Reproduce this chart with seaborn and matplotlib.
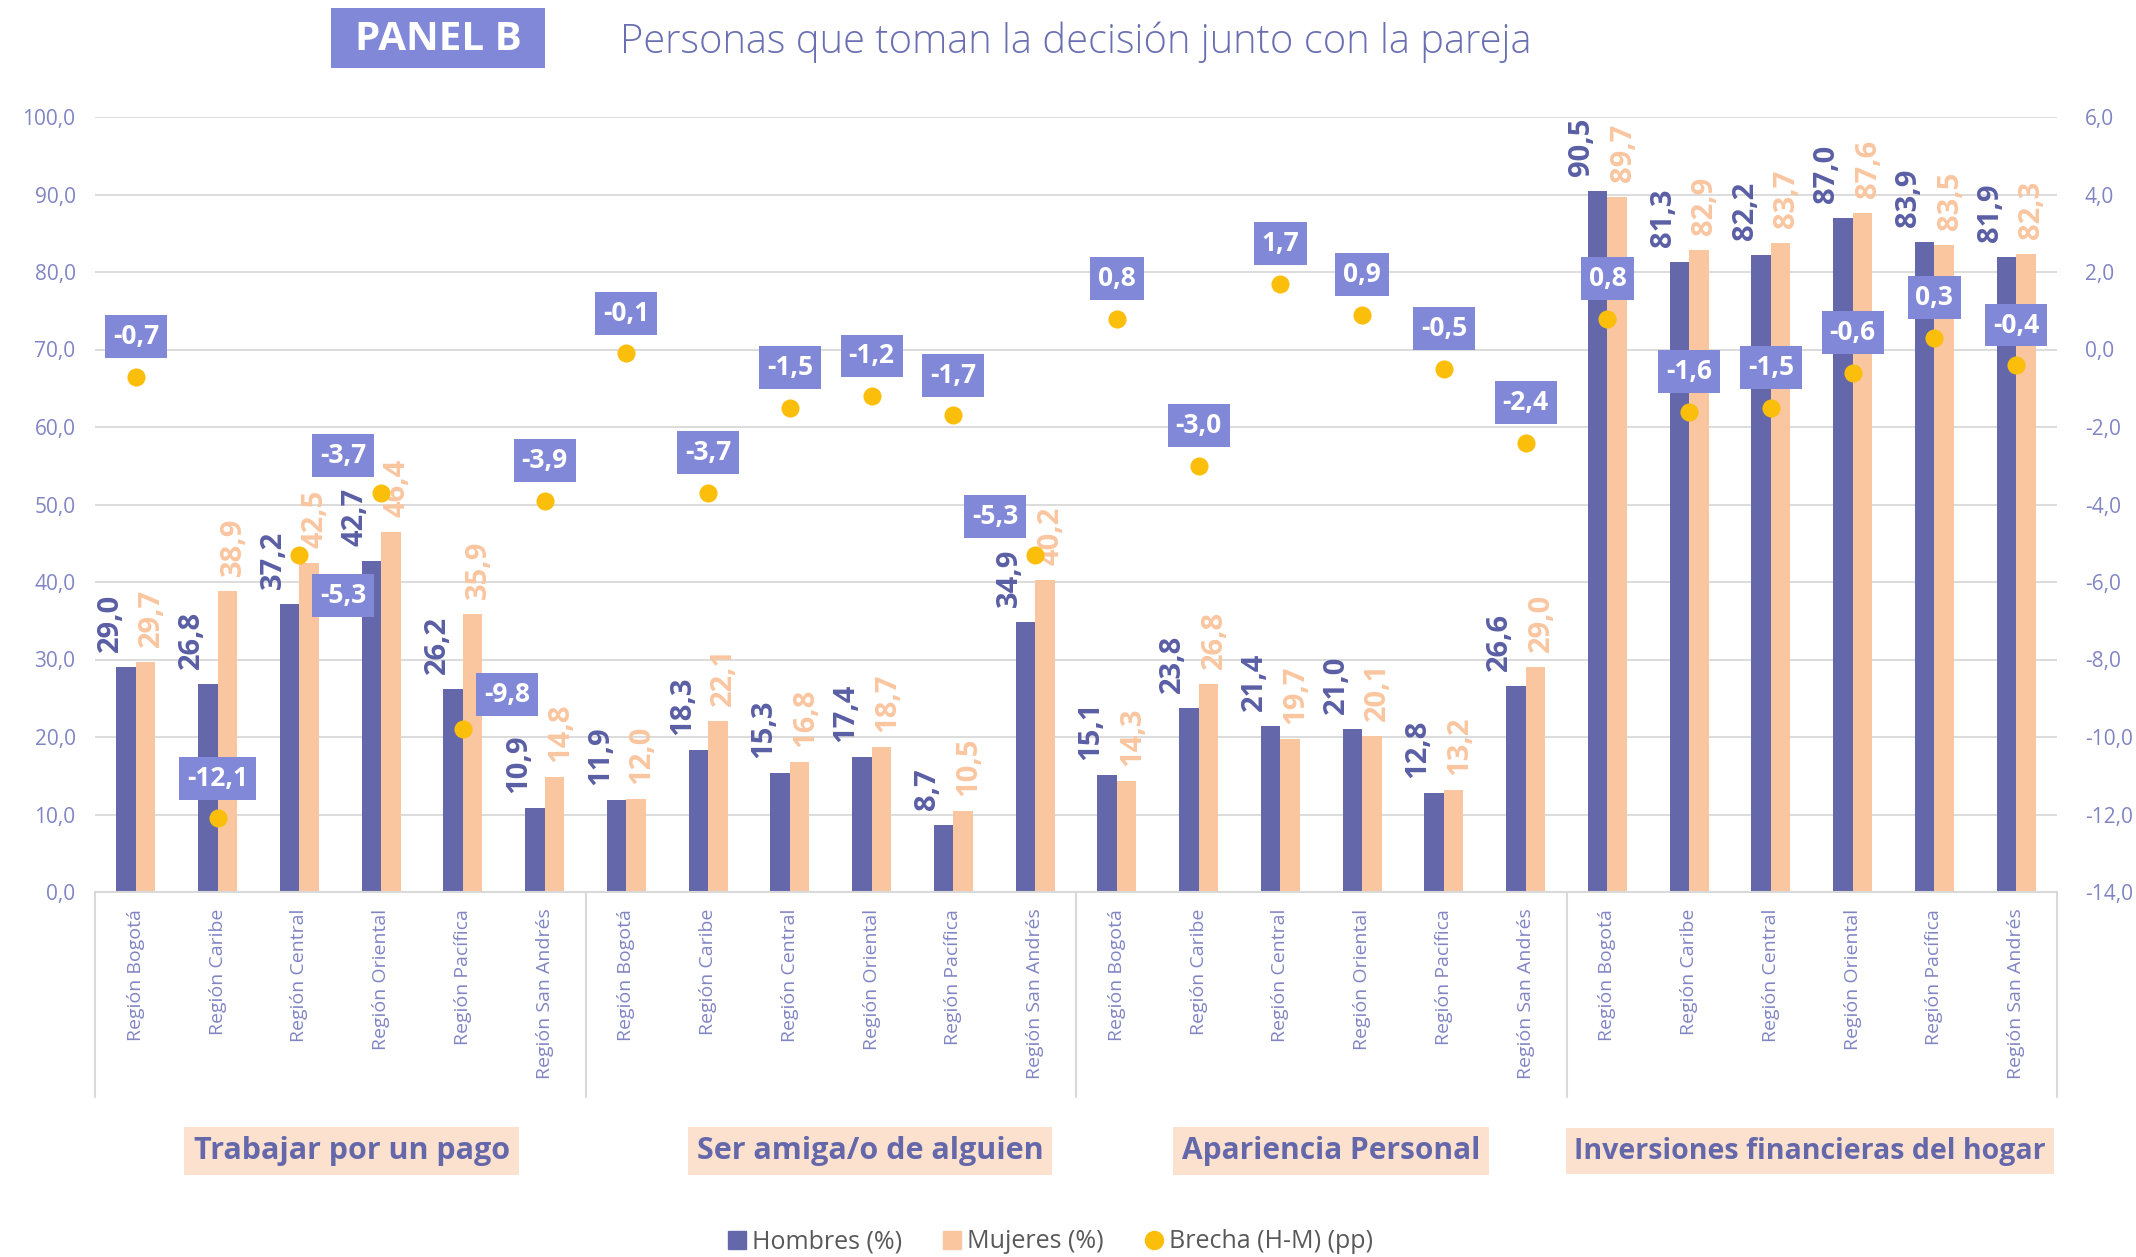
import numpy as np
import pandas as pd
import matplotlib.pyplot as plt
import seaborn as sns
from matplotlib.ticker import FuncFormatter
from matplotlib.lines import Line2D
from matplotlib.patches import Rectangle
import matplotlib.transforms as mtransforms

regiones = ["Región Bogotá", "Región Caribe", "Región Central",
            "Región Oriental", "Región Pacífica", "Región San Andrés"]
grupos = ["Trabajar por un pago", "Ser amiga/o de alguien",
          "Apariencia Personal", "Inversiones financieras del hogar"]

hombres = [29.0, 26.8, 37.2, 42.7, 26.2, 10.9,
           11.9, 18.3, 15.3, 17.4, 8.7, 34.9,
           15.1, 23.8, 21.4, 21.0, 12.8, 26.6,
           90.5, 81.3, 82.2, 87.0, 83.9, 81.9]
mujeres = [29.7, 38.9, 42.5, 46.4, 35.9, 14.8,
           12.0, 22.1, 16.8, 18.7, 10.5, 40.2,
           14.3, 26.8, 19.7, 20.1, 13.2, 29.0,
           89.7, 82.9, 83.7, 87.6, 83.5, 82.3]
brecha = [-0.7, -12.1, -5.3, -3.7, -9.8, -3.9,
          -0.1, -3.7, -1.5, -1.2, -1.7, -5.3,
          0.8, -3.0, 1.7, 0.9, -0.5, -2.4,
          0.8, -1.6, -1.5, -0.6, 0.3, -0.4]

C_H = "#6468AA"
C_M = "#F9C6A0"
C_B = "#FBBE0B"
C_BOX = "#8188D8"
C_TICK = "#8185C4"
C_GRID = "#D9D9D9"

n = len(hombres)
pos = np.arange(n)
df = pd.DataFrame({
    "pos": np.concatenate([pos, pos]),
    "serie": ["Hombres (%)"] * n + ["Mujeres (%)"] * n,
    "valor": hombres + mujeres,
})

sns.set_theme(style="white")
plt.rcParams['font.family'] = ['Open Sans', 'DejaVu Sans']

fig = plt.figure(figsize=(21.36, 12.57), dpi=100)
ax = fig.add_axes([95 / 2136, 1 - 892 / 1257, 1962 / 2136, 775 / 1257])

sns.barplot(data=df, x="pos", y="valor", hue="serie", palette=[C_H, C_M],
            width=0.48, linewidth=0, saturation=1, ax=ax, legend=False)

ax.set_ylim(0, 100)
ax.set_yticks(np.arange(0, 101, 10))
fmt = FuncFormatter(lambda v, p: f"{v:.1f}".replace(".", ","))
ax.yaxis.set_major_formatter(fmt)
ax.grid(axis="y", color=C_GRID, lw=1.3)
ax.set_axisbelow(True)
for s in ["top", "left", "right"]:
    ax.spines[s].set_visible(False)
ax.spines["bottom"].set_color(C_GRID)
ax.spines["bottom"].set_linewidth(1.5)
ax.set_xlabel("")
ax.set_ylabel("")
ax.set_xticks(pos)
ax.set_xticklabels(regiones * 4, rotation=90, fontsize=14, color=C_TICK)
ax.tick_params(axis="x", length=0, pad=12)
ax.tick_params(axis="y", length=0, pad=14, labelsize=15, labelcolor=C_TICK)

# etiquetas de valor
for i in range(n):
    ax.annotate(f"{hombres[i]:.1f}".replace(".", ","), (i - 0.12, hombres[i]),
                xytext=(-16, 15), textcoords="offset pixels", rotation=90,
                ha="center", va="bottom", fontsize=21, fontweight="bold", color="#5A5EA4")
    ax.annotate(f"{mujeres[i]:.1f}".replace(".", ","), (i + 0.12, mujeres[i]),
                xytext=(6, 15), textcoords="offset pixels", rotation=90,
                ha="center", va="bottom", fontsize=21, fontweight="bold", color=C_M)

# brecha en eje secundario
ax2 = ax.twinx()
sns.scatterplot(x=pos, y=brecha, ax=ax2, color=C_B, s=170, linewidth=0, zorder=5)
ax2.set_ylim(-14, 6)
ax2.set_yticks(np.arange(-14, 7, 2))
ax2.yaxis.set_major_formatter(fmt)
ax2.tick_params(axis="y", length=0, pad=20, labelsize=15, labelcolor=C_TICK)
for s in ax2.spines.values():
    s.set_visible(False)
ax2.set_ylabel("")
ax.set_xlim(-0.5, n - 0.5)
ax2.set_xlim(-0.5, n - 0.5)

offsets = {2: (44, -41), 3: (-38, 37), 4: (44, 35), 11: (-40, 38)}
for i in range(n):
    dx, dy = offsets.get(i, (0, 40))
    ax2.annotate(f"{brecha[i]:.1f}".replace(".", ","), (i, brecha[i]),
                 xytext=(dx, dy), textcoords="offset pixels",
                 ha="center", va="center", fontsize=19, fontweight="bold",
                 color="white", zorder=6,
                 bbox=dict(boxstyle="square,pad=0.3", fc=C_BOX, ec="none"))

# separadores de grupo
trans = mtransforms.blended_transform_factory(ax.transData, ax.transAxes)
for xs in [-0.5, 5.5, 11.5, 17.5, 23.5]:
    ax.plot([xs, xs], [0, -0.265], transform=trans, color=C_GRID, lw=1.5, clip_on=False)

# etiquetas de grupo
trans_g = mtransforms.blended_transform_factory(ax.transData, fig.transFigure)
centros = [2.64, 8.98, 14.62, 20.48]
tamanos = [22, 22, 21.5, 20.5]
for g, c, fs in zip(grupos, centros, tamanos):
    ax.text(c, 1 - 1151 / 1257, g, transform=trans_g, ha="center", va="center",
            fontsize=fs, fontweight="bold", color="#6468AA",
            bbox=dict(boxstyle="square,pad=0.3", fc="#FCE1CF", ec="none"))

# titulo
fig.patches.append(Rectangle((331 / 2136, 1 - 68 / 1257), 214 / 2136, 60 / 1257,
                             transform=fig.transFigure, fc=C_BOX, ec="none"))
fig.text(438 / 2136, 1 - 39 / 1257, "PANEL B", ha="center", va="center",
         fontsize=29, fontweight="bold", color="white")
fig.text(620 / 2136, 1 - 42 / 1257, "Personas que toman la decisión junto con la pareja",
         ha="left", va="center", fontsize=28.7, fontweight="light", color="#6A6FB2")

# leyenda
handles = [
    Line2D([], [], marker="s", ls="none", color=C_H, markersize=13),
    Line2D([], [], marker="s", ls="none", color=C_M, markersize=13),
    Line2D([], [], marker="o", ls="none", color=C_B, markersize=13),
]
fig.legend(handles, ["Hombres (%)", "Mujeres (%)", "Brecha (H-M) (pp)"],
           loc="center", bbox_to_anchor=(1050 / 2136, 1 - 1242 / 1257), ncol=3,
           frameon=False, fontsize=18, labelcolor="#595959",
           handletextpad=0.2, columnspacing=1.6, handlelength=0.8)

plt.savefig("out.png", dpi=100)
